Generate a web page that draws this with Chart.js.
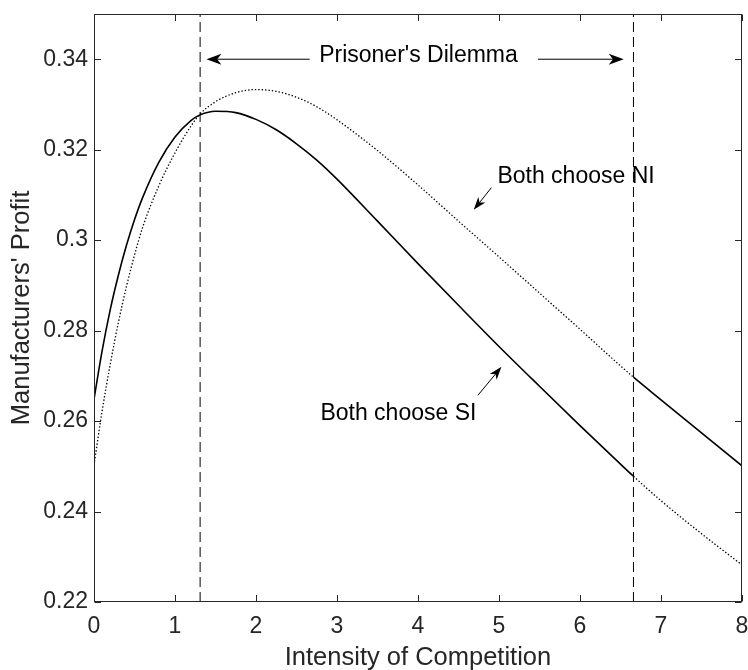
<!DOCTYPE html>
<html>
<head>
<meta charset="utf-8">
<script src="https://cdn.jsdelivr.net/npm/chart.js@4/dist/chart.umd.min.js"></script>
<style>
html,body{margin:0;padding:0;background:#fff;}
#wrap{width:748px;height:670px;}
</style>
</head>
<body>
<div id="wrap"><canvas id="c" width="748" height="670"></canvas></div>
<script>
// ---- data ----
const competition = [0,0.1,0.2,0.3,0.4,0.5,0.6,0.8,1.0,1.2,1.31,1.5,1.75,2.0,2.25,2.5,2.75,3.0,3.5,4.0,4.5,5.0,5.5,6.0,6.5,6.66,7.0,7.5,8.0];
const profitSI = [0.2648,0.2755,0.2846,0.2922,0.2988,0.3045,0.3094,0.3172,0.3228,0.3265,0.3277,0.3285,0.3282,0.3267,0.3244,0.3213,0.3177,0.3135,0.3042,0.2948,0.2856,0.2765,0.2677,0.2590,0.2505,0.2478,0.2424,0.2351,0.2282];
const profitNI = [0.2503,0.2622,0.2725,0.2817,0.2897,0.2967,0.3028,0.3120,0.3193,0.3253,0.3279,0.3306,0.3326,0.3333,0.3329,0.3316,0.3295,0.3266,0.3198,0.3122,0.3042,0.2963,0.2883,0.2803,0.2722,0.2697,0.2647,0.2574,0.2501];
const dilemmaBounds = [1.31, 6.66];
const xTicks = [0,1,2,3,4,5,6,7,8];
const yTicks = [0.22,0.24,0.26,0.28,0.30,0.32,0.34];
const xRange = [0, 8];
const yRange = [0.22, 0.35];

const annotationTexts = [
  {text: "Prisoner's Dilemma", x: 4.006, y: 0.3394, align: 'center'},
  {text: 'Both choose NI', x: 4.98, y: 0.3126, align: 'left'},
  {text: 'Both choose SI', x: 2.795, y: 0.2602, align: 'left'}
];
const annotationArrows = [
  {from: [2.663, 0.34], to: [1.388, 0.34], len: 15, half: 5.5},
  {from: [5.481, 0.34], to: [6.54, 0.34], len: 15, half: 5.5},
  {from: [4.906, 0.3116], to: [4.688, 0.3067], len: 13, half: 4.5},
  {from: [4.74, 0.2657], to: [5.03, 0.2720], len: 13, half: 4.5}
];

const FONT = "'Liberation Sans', Arial, Helvetica, sans-serif";
const AXIS_COLOR = '#262626';
const DOT = [1.4, 2];

const pts = ys => competition.map((x, i) => ({x: x, y: ys[i]}));
const afterSwitch = ctx => ctx.p0.parsed.x >= dilemmaBounds[1] - 1e-9;
const noPad = s => { s.paddingLeft = 0; s.paddingRight = 0; s.paddingTop = 0; s.paddingBottom = 0; };

const frameAndNotes = {
  id: 'frameAndNotes',
  afterDatasetsDraw(chart) {
    const {ctx, chartArea: a, scales: {x, y}} = chart;
    ctx.save();
    ctx.strokeStyle = AXIS_COLOR;
    ctx.lineWidth = 1;
    const L = Math.round(a.left) + 0.5, R = Math.round(a.right) - 0.5;
    const T = Math.round(a.top) + 0.5, B = Math.round(a.bottom) - 0.5;
    ctx.strokeRect(L, T, R - L, B - T);
    const tl = 6.5;
    ctx.beginPath();
    xTicks.forEach(v => {
      const px = Math.round(x.getPixelForValue(v)) + 0.5;
      ctx.moveTo(px, B); ctx.lineTo(px, B - tl);
      ctx.moveTo(px, T); ctx.lineTo(px, T + tl);
    });
    yTicks.forEach(v => {
      const py = Math.round(y.getPixelForValue(v)) + 0.5;
      ctx.moveTo(L, py); ctx.lineTo(L + tl, py);
      ctx.moveTo(R, py); ctx.lineTo(R - tl, py);
    });
    ctx.stroke();

    ctx.strokeStyle = '#000';
    ctx.fillStyle = '#000';
    annotationArrows.forEach(ar => {
      const x0 = x.getPixelForValue(ar.from[0]), y0 = y.getPixelForValue(ar.from[1]);
      const x1 = x.getPixelForValue(ar.to[0]), y1 = y.getPixelForValue(ar.to[1]);
      const dx = x1 - x0, dy = y1 - y0, d = Math.hypot(dx, dy);
      const ux = dx / d, uy = dy / d, nx = -uy, ny = ux;
      const bx = x1 - ux * ar.len, by = y1 - uy * ar.len;
      const mx = x1 - ux * ar.len * 0.72, my = y1 - uy * ar.len * 0.72;
      ctx.lineWidth = 1;
      ctx.beginPath();
      ctx.moveTo(x0, y0); ctx.lineTo(mx, my);
      ctx.stroke();
      ctx.beginPath();
      ctx.moveTo(x1, y1);
      ctx.lineTo(bx + nx * ar.half, by + ny * ar.half);
      ctx.lineTo(mx, my);
      ctx.lineTo(bx - nx * ar.half, by - ny * ar.half);
      ctx.closePath();
      ctx.fill();
    });

    ctx.font = '23px ' + FONT;
    ctx.textBaseline = 'alphabetic';
    annotationTexts.forEach(t => {
      ctx.textAlign = t.align;
      ctx.fillText(t.text, x.getPixelForValue(t.x), y.getPixelForValue(t.y));
    });
    ctx.restore();
  }
};

new Chart(document.getElementById('c'), {
  type: 'line',
  data: {
    datasets: [
      {
        label: 'Both choose SI',
        data: pts(profitSI),
        borderColor: '#000',
        borderWidth: 1.6,
        pointRadius: 0,
        cubicInterpolationMode: 'monotone',
        segment: {
          borderDash: ctx => afterSwitch(ctx) ? DOT : undefined,
          borderWidth: ctx => afterSwitch(ctx) ? 1.3 : undefined
        }
      },
      {
        label: 'Both choose NI',
        data: pts(profitNI),
        borderColor: '#000',
        borderWidth: 1.3,
        borderDash: DOT,
        pointRadius: 0,
        cubicInterpolationMode: 'monotone',
        segment: {
          borderDash: ctx => afterSwitch(ctx) ? [] : undefined,
          borderWidth: ctx => afterSwitch(ctx) ? 1.6 : undefined
        }
      },
      {
        label: 'lower bound',
        data: [{x: dilemmaBounds[0], y: yRange[0]}, {x: dilemmaBounds[0], y: yRange[1]}],
        borderColor: '#000', borderWidth: 1, borderDash: [10, 5], pointRadius: 0
      },
      {
        label: 'upper bound',
        data: [{x: dilemmaBounds[1], y: yRange[0]}, {x: dilemmaBounds[1], y: yRange[1]}],
        borderColor: '#000', borderWidth: 1, borderDash: [10, 5], pointRadius: 0
      }
    ]
  },
  options: {
    responsive: false,
    animation: false,
    devicePixelRatio: 1,
    layout: {padding: {top: 14, right: 6, left: 0, bottom: 0}, autoPadding: false},
    plugins: {legend: {display: false}, tooltip: {enabled: false}},
    scales: {
      x: {
        type: 'linear', min: xRange[0], max: xRange[1],
        afterBuildTicks: s => { s.ticks = xTicks.map(v => ({value: v})); },
        afterFit: s => { s.height = 68; noPad(s); },
        grid: {display: false, drawTicks: false},
        border: {display: false},
        ticks: {font: {family: FONT, size: 23}, color: AXIS_COLOR, padding: 11, maxRotation: 0, autoSkip: false,
                callback: v => String(v)},
        title: {display: true, text: 'Intensity of Competition', color: AXIS_COLOR,
                font: {family: FONT, size: 25.5}, padding: {top: 0, bottom: -3}}
      },
      y: {
        type: 'linear', min: yRange[0], max: yRange[1],
        afterBuildTicks: s => { s.ticks = yTicks.map(v => ({value: v})); },
        afterFit: s => { s.width = 94; noPad(s); },
        grid: {display: false, drawTicks: false},
        border: {display: false},
        ticks: {font: {family: FONT, size: 23}, color: AXIS_COLOR, padding: 6,
                callback: v => String(Math.round(v * 100) / 100)},
        title: {display: true, text: "Manufacturers' Profit", color: AXIS_COLOR,
                font: {family: FONT, size: 25.5}, padding: {top: 7, bottom: 0}}
      }
    }
  },
  plugins: [frameAndNotes]
});
</script>
</body>
</html>
